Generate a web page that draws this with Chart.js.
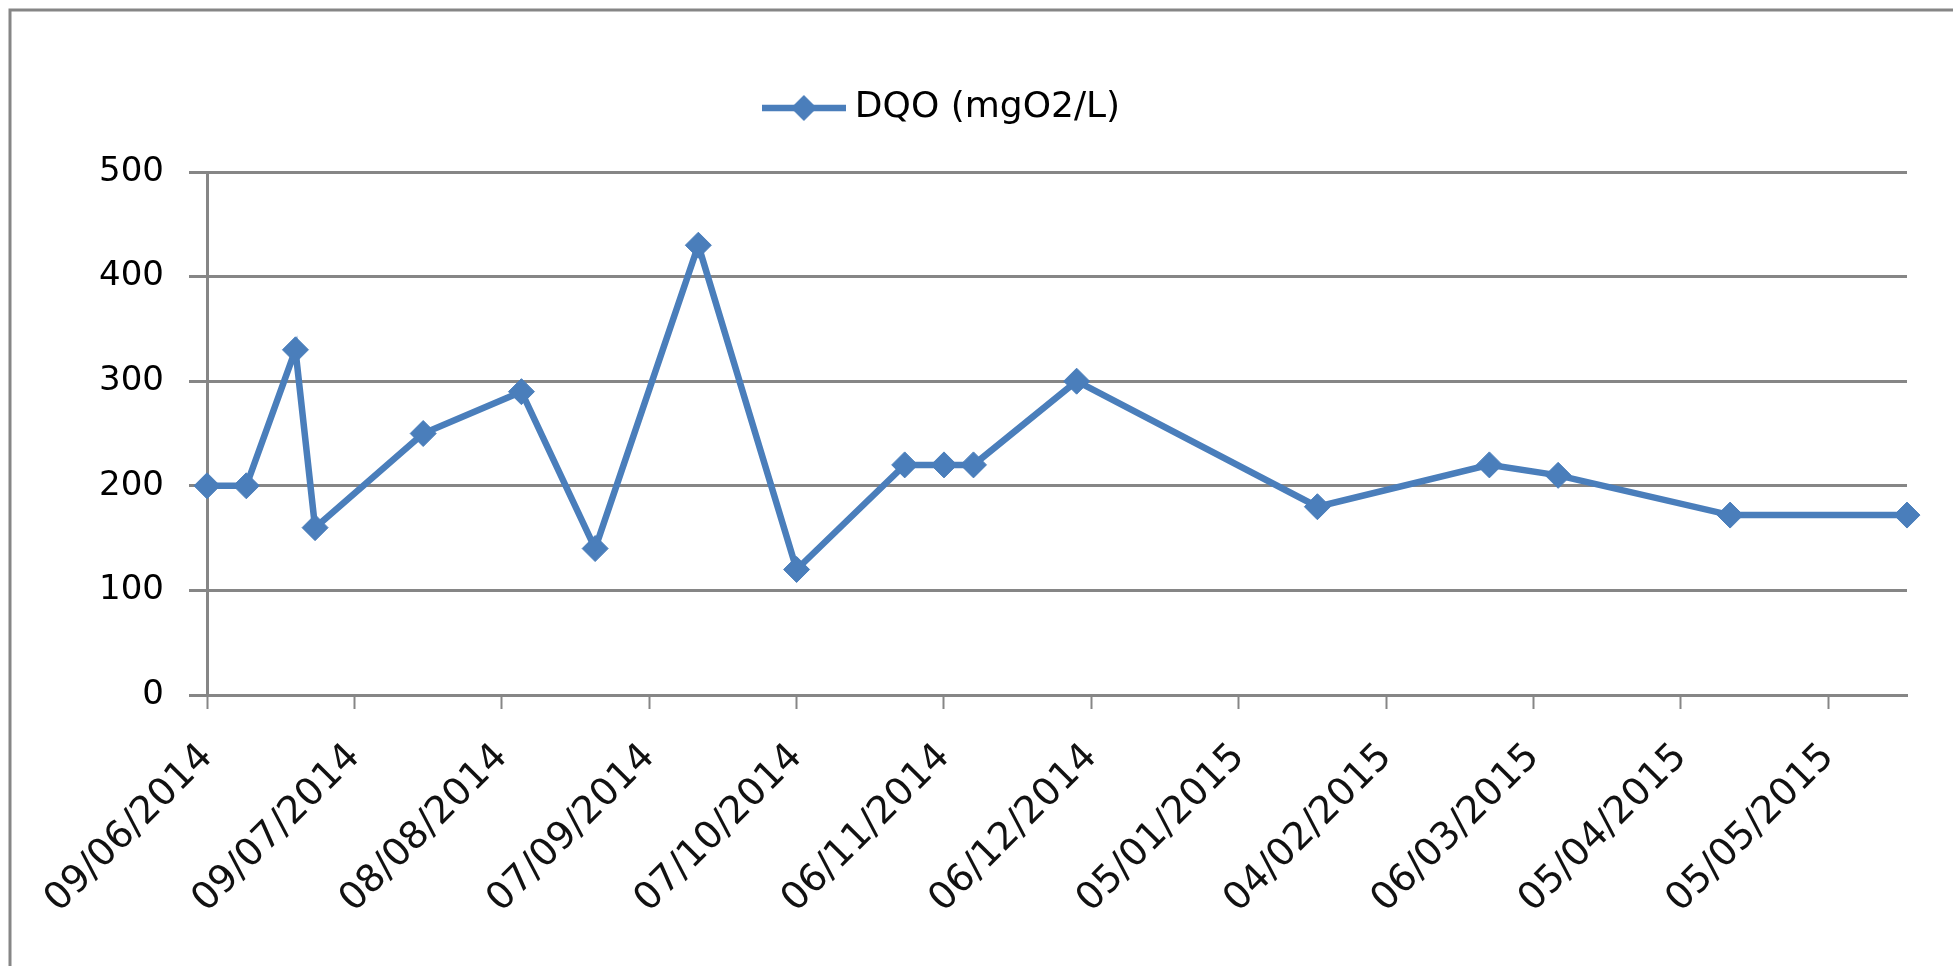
<!DOCTYPE html>
<html><head><meta charset="utf-8">
<script src="https://cdn.jsdelivr.net/npm/chart.js@4/dist/chart.umd.min.js"></script>
<style>html,body{margin:0;padding:0;background:#fff;}canvas{display:block}</style>
</head><body>
<canvas id="c" width="1953" height="966"></canvas>
<script>
// ---- data ----
const seriesName = 'DQO (mgO2/L)';
const sampleDates = ['09/06/2014','17/06/2014','27/06/2014','01/07/2014','23/07/2014','12/08/2014','27/08/2014','17/09/2014','07/10/2014','29/10/2014','06/11/2014','12/11/2014','03/12/2014','21/01/2015','25/02/2015','11/03/2015','15/04/2015','21/05/2015'];
const dqoValues = [200,200,330,160,250,290,140,430,120,220,220,220,300,180,220,210,172,172];
const xTickLabels = ['09/06/2014','09/07/2014','08/08/2014','07/09/2014','07/10/2014','06/11/2014','06/12/2014','05/01/2015','04/02/2015','06/03/2015','05/04/2015','05/05/2015'];
const yTickValues = [0,100,200,300,400,500];

// ---- helpers ----
function toDay(s){const p=s.split('/').map(Number);return Math.round(Date.UTC(p[2],p[1]-1,p[0])/86400000);}
const tickDays = xTickLabels.map(toDay);
const points = sampleDates.map((d,i)=>({x:toDay(d),y:dqoValues[i]}));

const BLUE = '#4A7EBB';
const GRID = '#868686';
const FONT = 'DejaVu Sans';

// legend symbol: line with diamond marker
const sym = document.createElement('canvas');
sym.width = 84; sym.height = 32;
(function(){
  const g = sym.getContext('2d');
  g.strokeStyle = BLUE; g.lineWidth = 6.5;
  g.beginPath(); g.moveTo(0,16); g.lineTo(84,16); g.stroke();
  g.fillStyle = BLUE;
  g.beginPath(); g.moveTo(42,3); g.lineTo(55,16); g.lineTo(42,29); g.lineTo(29,16); g.closePath(); g.fill();
})();

const framePlugin = {
  id:'frame',
  beforeDraw(chart){
    const ctx = chart.ctx;
    ctx.save();
    ctx.strokeStyle = GRID; ctx.lineWidth = 3;
    ctx.beginPath(); ctx.moveTo(10,966); ctx.lineTo(10,10); ctx.lineTo(1953,10); ctx.stroke();
    ctx.restore();
  }
};
const legendShift = {
  id:'legendShift',
  afterLayout(chart){
    if(chart.legend){ chart.legend.left -= 8; chart.legend.right -= 8; }
  }
};

new Chart(document.getElementById('c'), {
  type:'line',
  data:{ datasets:[{
    label: seriesName,
    data: points,
    borderColor: BLUE,
    backgroundColor: BLUE,
    borderWidth: 6.5,
    pointStyle: 'rectRot',
    pointRadius: 13,
    pointBackgroundColor: BLUE,
    pointBorderColor: BLUE,
    pointBorderWidth: 1,
    tension: 0,
    clip: false
  }]},
  options:{
    responsive:false,
    animation:false,
    devicePixelRatio:1,
    layout:{ padding:{ top:80, left:0, right:46, bottom:0 } },
    plugins:{
      tooltip:{enabled:false},
      legend:{
        display:true, position:'top',
        labels:{
          usePointStyle:true, pointStyle: sym, pointStyleWidth:66,
          padding:10, color:'#000',
          font:{family:FONT, size:36}
        }
      },
      subtitle:{ display:true, text:' ', weight:500, font:{size:10, lineHeight:1}, padding:{top:0,bottom:26} }
    },
    scales:{
      x:{
        type:'linear',
        min: toDay(sampleDates[0]),
        max: toDay(sampleDates[sampleDates.length-1]),
        afterBuildTicks(scale){ scale.ticks = tickDays.map(v=>({value:v})); },
        afterFit(scale){ scale.height = 271; },
        ticks:{
          autoSkip:false, minRotation:45, maxRotation:45, padding:26,
          color:'#111', font:{family:FONT, size:38},
          callback(v){ const i = tickDays.indexOf(v); return i>=0 ? xTickLabels[i] : ''; }
        },
        grid:{ drawOnChartArea:false, drawTicks:true, tickLength:14, tickWidth:2, tickColor:GRID, color:GRID },
        border:{ display:true, color:GRID, width:3 }
      },
      y:{
        min:0, max:500,
        afterBuildTicks(scale){ scale.ticks = yTickValues.map(v=>({value:v})); },
        afterFit(scale){ scale.width = 207; },
        ticks:{ padding:25, color:'#000', font:{family:FONT, size:34} },
        grid:{ color:GRID, lineWidth:3, tickLength:18, drawTicks:true },
        border:{ display:true, color:GRID, width:3 }
      }
    }
  },
  plugins:[framePlugin, legendShift]
});
</script>
</body></html>
